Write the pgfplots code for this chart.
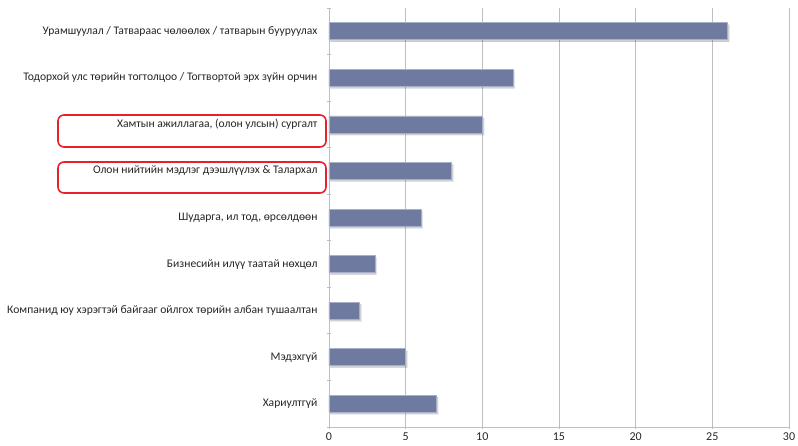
\documentclass[border=0pt]{standalone}
\usepackage{fontspec}
\setmainfont{Carlito}
\usepackage{pgfplots}
\pgfplotsset{compat=1.18}
\usetikzlibrary{shadows}
\definecolor{barblue}{RGB}{110,122,160}
\definecolor{gridgray}{RGB}{190,190,190}
\definecolor{boxred}{RGB}{232,32,42}
\begin{document}
\begin{tikzpicture}
\begin{axis}[
  at={(0,0)}, anchor=south west,
  scale only axis, width=460pt, height=419pt,
  xbar, bar width=17pt,
  xmin=0, xmax=30, xtick={0,5,...,30},
  ymin=-0.5, ymax=8.5, y dir=reverse,
  ytick={0,...,8},
  yticklabels={
    {Урамшуулал / Татвараас чөлөөлөх / татварын бууруулах},
    {Тодорхой улс төрийн тогтолцоо / Тогтвортой эрх зүйн орчин},
    {Хамтын ажиллагаа, (олон улсын) сургалт},
    {Олон нийтийн мэдлэг дээшлүүлэх \& Талархал},
    {Шударга, ил тод, өрсөлдөөн},
    {Бизнесийн илүү таатай нөхцөл},
    {Компанид юу хэрэгтэй байгааг ойлгох төрийн албан тушаалтан},
    {Мэдэхгүй},
    {Хариултгүй}},
  minor ytick={-0.5,0.5,...,8.5},
  major y tick style={draw=none},
  minor tick length=4pt, major tick length=4pt,
  tick align=outside,
  tick style={gridgray, line width=0.8pt},
  axis x line=bottom, axis y line=left,
  axis line style={-, gridgray, line width=0.8pt},
  xmajorgrids, grid style={gridgray, line width=0.8pt},
  yticklabel style={font=\fontsize{11.6}{13}\selectfont, text=black!85, xshift=-6pt},
  xticklabel style={font=\fontsize{12}{13}\selectfont, text=black!85},
  /pgf/number format/assume math mode=true,
  clip=false,
]
\addplot[fill=barblue, draw=barblue!60!white, line width=0.6pt,
  drop shadow={shadow xshift=1.5pt, shadow yshift=-2pt, opacity=0.18, fill=black}]
  coordinates {(26,0) (12,1) (10,2) (8,3) (6,4) (3,5) (2,6) (5,7) (7,8)};
\end{axis}
\draw[boxred, line width=1.6pt, rounded corners=6pt] (-271pt,280pt) rectangle (-3pt,312pt);
\draw[boxred, line width=1.6pt, rounded corners=6pt] (-271pt,234pt) rectangle (-3pt,265pt);
\pgfresetboundingbox
\path[use as bounding box] (-329pt,-19pt) rectangle (469pt,427pt);
\end{tikzpicture}
\end{document}
